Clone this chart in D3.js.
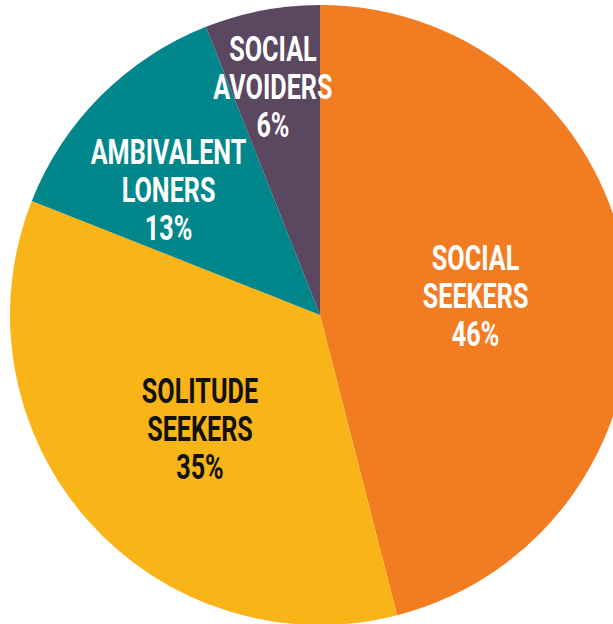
<!DOCTYPE html>
<html><head><meta charset="utf-8">
<script src="https://cdn.jsdelivr.net/npm/d3@7"></script>
<style>html,body{margin:0;padding:0;background:#fff;overflow:hidden}svg{display:block}</style>
</head><body>
<svg id="chart" width="613" height="624"></svg>
<script>
const categories = [["SOCIAL","SEEKERS"],["SOLITUDE","SEEKERS"],["AMBIVALENT","LONERS"],["SOCIAL","AVOIDERS"]];
const values = [46, 35, 13, 6];
const colors = ["#F27C22", "#F9B417", "#00868B", "#5A4760"];
const textColors = ["#ffffff", "#111111", "#ffffff", "#ffffff"];

const W = 613, H = 624, cx = 320, cy = 315, R = 310;
// label placement (fraction of radius, angle in degrees clockwise from top)
const labelPlace = [[0.506, 82.7], [0.532, 226.7], [0.635, 309.7], [0.755, 348.4]];
const fontSize = 36, lineH = 38, sx = 0.70;

const svg = d3.select("#chart");
const g = svg.append("g").attr("transform", `translate(${cx},${cy})`);
const pie = d3.pie().sort(null).value(d => d)(values);
const arc = d3.arc().innerRadius(0).outerRadius(R);

g.selectAll("path").data(pie).join("path")
  .attr("d", arc).attr("fill", (d,i) => colors[i]);

pie.forEach((d, i) => {
  const a = labelPlace[i][1] * Math.PI / 180;
  const r = R * labelPlace[i][0];
  const x = r * Math.sin(a), y = -r * Math.cos(a);
  const lines = categories[i].concat([values[i] + "%"]);
  const t = g.append("text")
    .attr("transform", `translate(${x},${y}) scale(${sx},1)`)
    .attr("text-anchor", "middle")
    .attr("font-family", "Roboto, 'DejaVu Sans', sans-serif")
    .attr("font-weight", 700)
    .attr("font-size", fontSize)
    .attr("fill", textColors[i]);
  lines.forEach((ln, j) => {
    t.append("tspan").attr("x", 0)
      .attr("y", (j - 1) * lineH + fontSize * 0.355)
      .text(ln);
  });
});
</script>
</body></html>
